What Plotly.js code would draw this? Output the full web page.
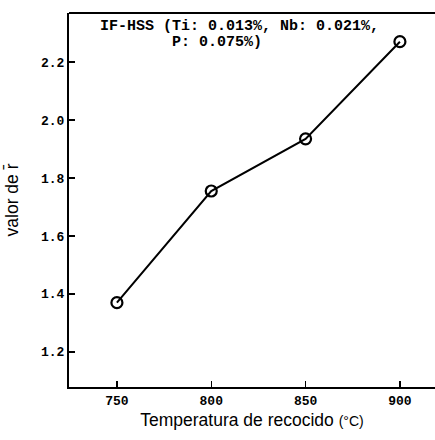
<!DOCTYPE html>
<html>
<head>
<meta charset="utf-8">
<script src="https://cdn.plot.ly/plotly-3.0.1.min.js"></script>
<style>html,body{margin:0;padding:0;background:#fff;}#chart{width:435px;height:440px;}</style>
</head>
<body>
<div id="chart"></div>
<script>
const temperatures = [750, 800, 850, 900];
const rValues = [1.37, 1.755, 1.935, 2.27];
const xTicks = [750, 800, 850, 900];
const yTicks = [1.2, 1.4, 1.6, 1.8, 2.0, 2.2];
const yTickLabels = ['1.2', '1.4', '1.6', '1.8', '2.0', '2.2'];
const noteLine1 = 'IF-HSS (Ti: 0.013%, Nb: 0.021%,';
const noteLine2 = 'P: 0.075%)';

const mono = {family: 'Liberation Mono, DejaVu Sans Mono, monospace', size: 13, color: '#000', weight: 'bold'};
const sans = {family: 'Liberation Sans, Arial, sans-serif', size: 17.5, color: '#000'};

const trace = {
  x: temperatures,
  y: rValues,
  mode: 'lines+markers',
  line: {color: '#000', width: 2},
  marker: {symbol: 'circle-open', size: 11, color: '#000', line: {width: 2.2, color: '#000'}},
  cliponaxis: false,
  showlegend: false
};

const layout = {
  width: 435, height: 440,
  margin: {l: 69, r: 0, t: 13, b: 53},
  paper_bgcolor: '#fff', plot_bgcolor: '#fff',
  xaxis: {
    range: [724.6, 918.6],
    tickvals: xTicks,
    ticktext: xTicks.map(String),
    ticks: 'inside', ticklen: 6, tickwidth: 1.5, tickcolor: '#000',
    showgrid: false, zeroline: false,
    showline: true, linecolor: '#000', linewidth: 2, mirror: false,
    tickfont: mono,
    title: {text: 'Temperatura de recocido <span style="font-size:14px">(°C)</span>', font: sans, standoff: 6}
  },
  yaxis: {
    range: [1.079, 2.369],
    tickvals: yTicks,
    ticktext: yTickLabels,
    ticks: 'inside', ticklen: 6, tickwidth: 1.5, tickcolor: '#000',
    showgrid: false, zeroline: false,
    showline: true, linecolor: '#000', linewidth: 2, mirror: false,
    tickfont: mono,
    title: {text: 'valor de r̄', font: sans, standoff: 18}
  },
  shapes: [
    {type: 'line', xref: 'paper', yref: 'paper', x0: 0, x1: 1, y0: 1, y1: 1, line: {color: '#000', width: 2}}
  ],
  annotations: [
    {xref: 'paper', yref: 'paper', x: 0.08, y: 0.993, xanchor: 'left', yanchor: 'top', text: noteLine1, showarrow: false, font: {family: 'Liberation Mono, monospace', size: 15, color: '#000', weight: 'bold'}},
    {xref: 'paper', yref: 'paper', x: 0.275, y: 0.948, xanchor: 'left', yanchor: 'top', text: noteLine2, showarrow: false, font: {family: 'Liberation Mono, monospace', size: 15, color: '#000', weight: 'bold'}}
  ]
};

Plotly.newPlot('chart', [trace], layout, {displayModeBar: false, staticPlot: true});
</script>
</body>
</html>
